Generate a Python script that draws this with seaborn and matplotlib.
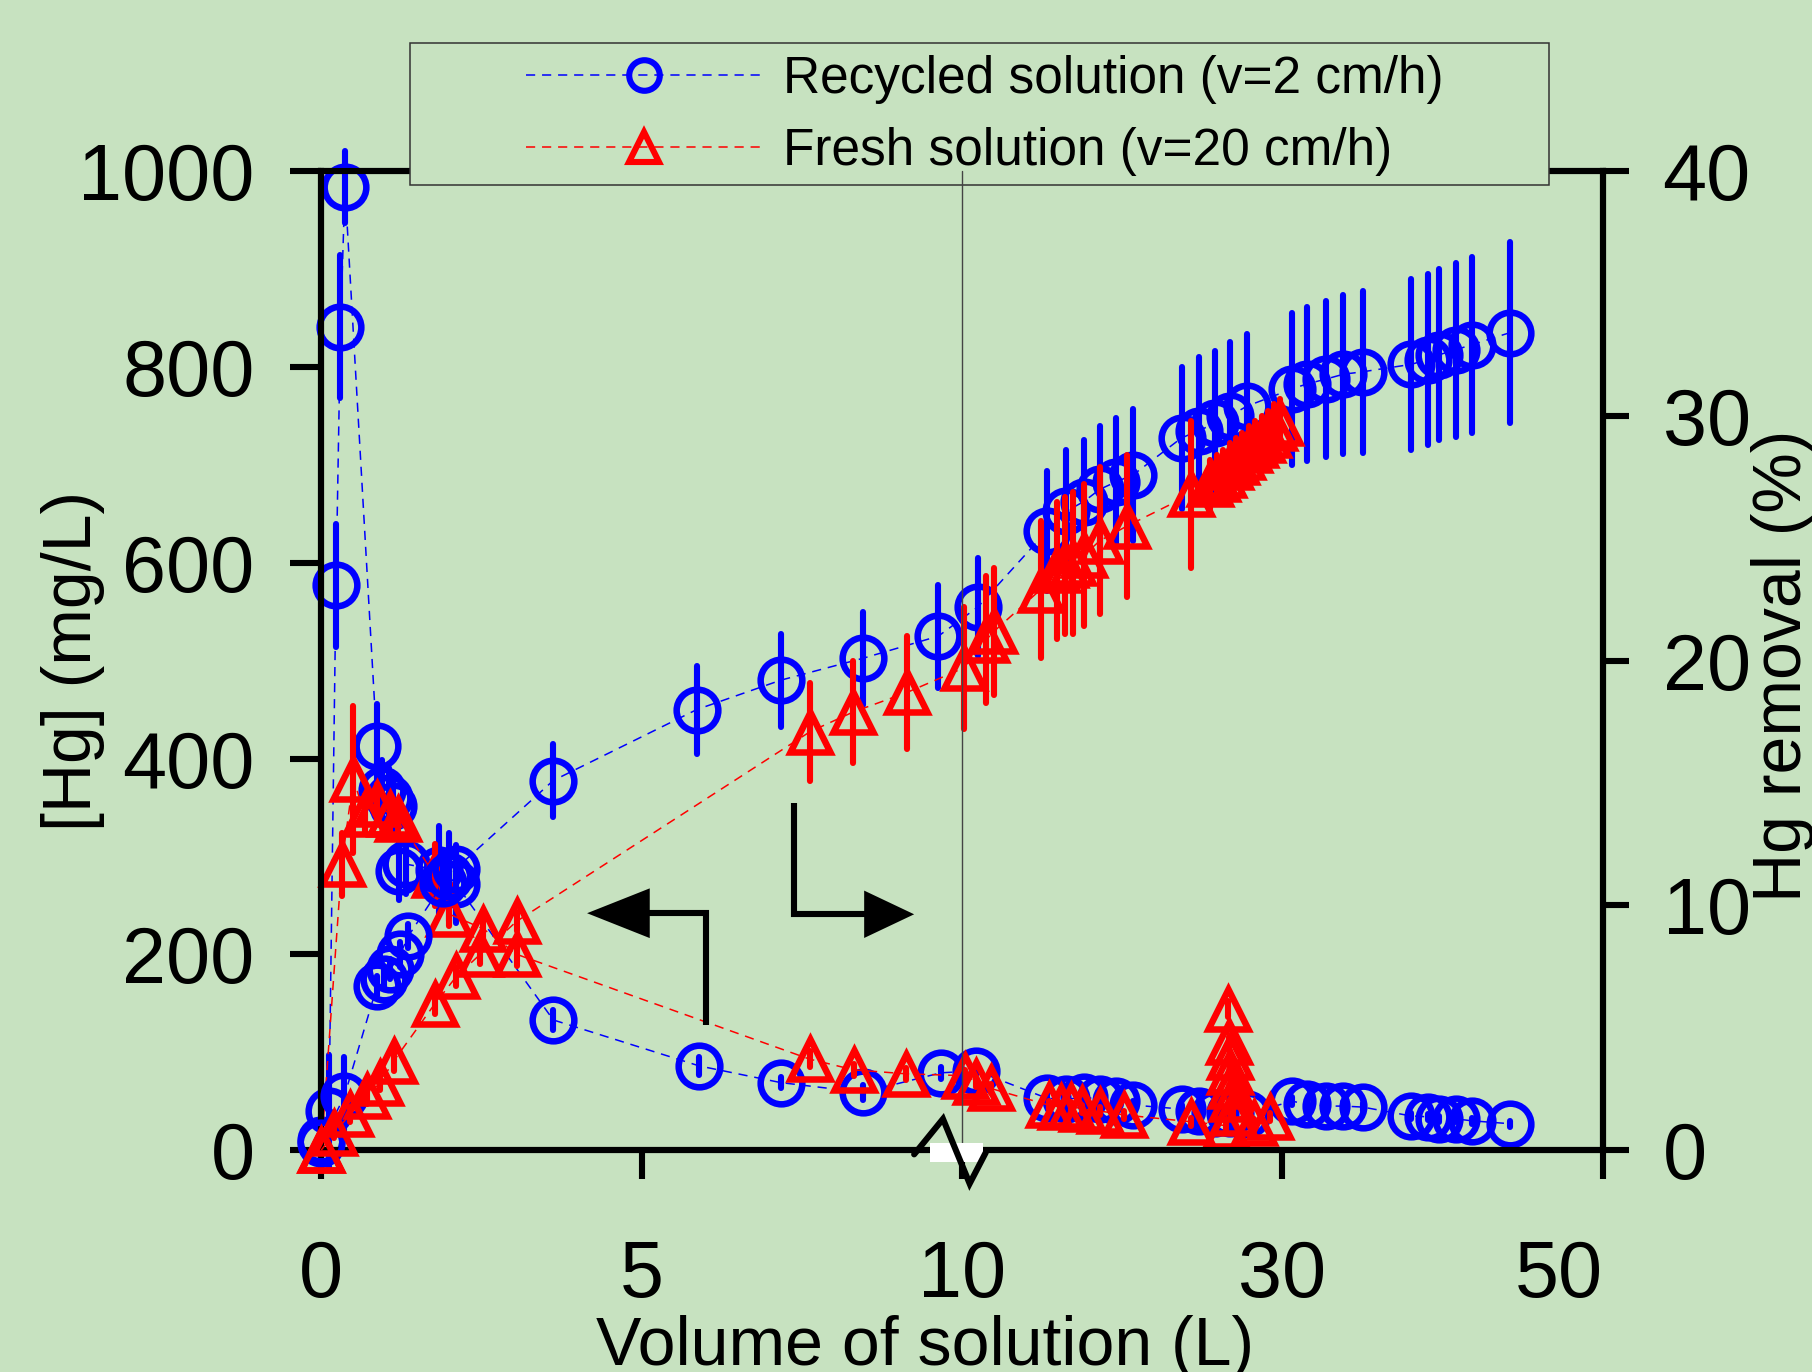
import numpy as np
import pandas as pd
import matplotlib
matplotlib.use("Agg")
import matplotlib.pyplot as plt
import seaborn as sns
from matplotlib.lines import Line2D
from matplotlib.patches import Rectangle, Polygon
from matplotlib.transforms import blended_transform_factory

# ---------------- data ----------------
# Recycled solution (blue): concentration [Hg] (mg/L), left axis
rec_conc_x = [0, 0.12, 0.23, 0.30, 0.37, 0.87, 0.95, 1.05, 1.12, 1.22, 1.33, 1.84, 2.0, 2.1,
              3.62, 5.9, 7.17, 8.45, 9.67, 10.9,
              15.3, 16.5, 17.6, 18.6, 19.6, 20.7, 23.7, 24.8, 25.8, 26.7, 27.8,
              30.6, 31.5, 32.7, 33.8, 35.0, 38.0, 39.1, 39.8, 40.8, 41.8, 44.2]
rec_conc_y = [10, 40, 577, 841, 984, 413, 368, 360, 352, 285, 292, 286, 279, 272,
              133, 86, 69, 59, 79, 81,
              53, 52, 54, 52, 50, 46, 42, 40, 38, 38, 37,
              50, 47, 45, 45, 44, 35, 34, 32, 32, 30, 27]
rec_conc_err = [0, 57, 63, 73, 37, 43, 30, 30, 30, 30, 30, 45, 45, 40,
                10, 9, 6, 8, 6, 6,
                4, 4, 4, 4, 4, 4, 4, 4, 4, 4, 4,
                4, 4, 4, 4, 4, 3, 3, 3, 3, 3, 3]

# Recycled solution (blue): Hg removal (%), right axis
rec_rem_x = [0, 0.36, 0.87, 0.98, 1.08, 1.23, 1.36, 1.9, 2.0, 2.1,
             3.62, 5.86, 7.17, 8.46, 9.63, 11.0,
             15.3, 16.5, 17.6, 18.6, 19.6, 20.7, 23.7, 24.8, 25.8, 26.7, 27.8,
             30.6, 31.5, 32.7, 33.8, 35.0, 38.0, 39.1, 39.8, 40.8, 41.8, 44.2]
rec_rem_y = [0.3, 2.2, 6.7, 7.0, 7.4, 8.0, 8.75, 10.9, 11.2, 11.5,
             15.1, 18.0, 19.2, 20.1, 21.0, 22.2,
             25.3, 26.1, 26.5, 27.0, 27.3, 27.6, 29.1, 29.4, 29.7, 30.0, 30.4,
             31.1, 31.3, 31.5, 31.7, 31.8, 32.1, 32.3, 32.5, 32.7, 32.9, 33.4]
rec_rem_err = [0, 1.6, 0.4, 0.4, 0.4, 0.5, 0.5, 0.8, 0.8, 0.8,
               1.5, 1.8, 1.9, 1.9, 2.1, 2.0,
               2.45, 2.5, 2.5, 2.6, 2.6, 2.7, 2.9, 3.0, 2.95, 3.0, 2.95,
               3.1, 3.15, 3.2, 3.25, 3.3, 3.5, 3.5, 3.5, 3.55, 3.6, 3.7]

# Fresh solution (red): concentration [Hg] (mg/L), left axis
fre_conc_x = [0, 0.32, 0.50, 0.68, 0.87, 1.07, 1.2, 1.77, 2.0, 2.53, 3.05,
              7.62, 8.31, 9.12, 10.2, 10.9, 11.8,
              15.4, 16.2, 16.8, 17.5, 18.6, 20.1, 24.3, 26.5,
              26.6, 26.65, 26.7, 26.75, 26.8, 26.85, 26.9, 28.2, 29.2]
fre_conc_y = [0, 292, 379, 343, 354, 343, 338, 281, 241, 226, 200,
              93, 82, 78, 76, 70, 63,
              46, 44, 45, 42, 40, 36, 29, 25,
              144, 110, 95, 80, 66, 52, 38, 28, 34]
fre_conc_err = [0, 32, 75, 20, 20, 20, 20, 32, 12, 12, 12,
                8, 6, 6, 6, 5, 5,
                4, 4, 4, 4, 4, 4, 4, 4,
                8, 6, 6, 6, 6, 6, 6, 4, 4]

# Fresh solution (red): Hg removal (%), right axis
fre_rem_x = [0, 0.2, 0.45, 0.71, 0.92, 1.13, 1.77, 2.11, 2.48, 3.05,
             7.63, 8.30, 9.14, 10.1, 11.5, 12.0,
             14.9, 15.9, 16.4, 16.9, 17.6, 18.6, 20.3, 24.3,
             25.5, 25.9, 26.3, 26.7, 27.1, 27.5, 27.9, 28.3, 28.7, 29.1, 29.5, 29.85]
fre_rem_y = [0, 0.7, 1.46, 2.2, 2.76, 3.64, 5.97, 7.1, 8.0, 9.35,
             17.1, 17.9, 18.7, 19.7, 20.85, 21.2,
             22.9, 23.7, 23.9, 24.0, 24.3, 24.9, 25.5, 26.8,
             27.2, 27.4, 27.6, 27.9, 28.1, 28.3, 28.6, 28.8, 29.0, 29.2, 29.5, 29.7]
fre_rem_err = [0, 0.2, 0.3, 0.3, 0.3, 0.4, 0.4, 0.4, 0.4, 0.4,
               2.0, 2.1, 2.3, 2.5, 2.6, 2.6,
               2.8, 2.8, 2.8, 2.9, 2.9, 3.0, 2.9, 3.0,
               1.0, 1.0, 1.0, 1.0, 1.0, 1.0, 1.0, 1.0, 1.0, 1.0, 1.0, 1.0]

labels = ["Recycled solution (v=2 cm/h)", "Fresh solution (v=20 cm/h)"]
x_ticks = [0, 5, 10, 30, 50]
yl_ticks = [0, 200, 400, 600, 800, 1000]
yr_ticks = [0, 10, 20, 30, 40]

# ---------------- style ----------------
sns.set_theme(style="ticks")
plt.rcParams["font.family"] = ["Liberation Sans", "DejaVu Sans"]

BG = "#C7E2C0"
BLUE = "#0000FF"
RED = "#FF0000"
LW = 4.4
MEW = 4.7

fig = plt.figure(figsize=(18.12, 13.72), dpi=100, facecolor=BG)
ax = fig.add_axes([0.1773, 0.1617, 0.7073, 0.7136])
ax.set_facecolor(BG)


def fwd(x):
    x = np.asarray(x, dtype=float)
    return np.where(x <= 10, x, 10 + (x - 10) / 4.0)


def inv(y):
    y = np.asarray(y, dtype=float)
    return np.where(y <= 10, y, 10 + (y - 10) * 4.0)


ax.set_xscale("function", functions=(fwd, inv))
ax.set_xlim(0, 50)
ax.set_ylim(0, 1000)
ax2 = ax.twinx()
ax2.set_ylim(0, 40)


def draw(axis, x, y, err, color, marker, ms, z):
    eb = axis.errorbar(x, y, yerr=err, fmt="none", ecolor=color, elinewidth=LW,
                       capsize=0, zorder=z, clip_on=False)
    for lc in eb.lines[2]:
        lc.set_capstyle("round")
    df = pd.DataFrame({"x": x, "y": y})
    sns.lineplot(data=df, x="x", y="y", ax=axis, sort=False, estimator=None,
                 errorbar=None, color=color, lw=1.1, linestyle=(0, (6, 4.5)),
                 marker=marker, markersize=ms, markerfacecolor="none",
                 markeredgecolor=color, markeredgewidth=MEW, clip_on=False,
                 zorder=z + 0.5, legend=False)


draw(ax, rec_conc_x, rec_conc_y, rec_conc_err, BLUE, "o", 30, 3)
draw(ax, fre_conc_x, fre_conc_y, fre_conc_err, RED, "^", 29.5, 4)
draw(ax2, rec_rem_x, rec_rem_y, rec_rem_err, BLUE, "o", 30, 3)
draw(ax2, fre_rem_x, fre_rem_y, fre_rem_err, RED, "^", 29.5, 4)

# ---------------- axes ----------------
for a in (ax, ax2):
    for s in a.spines.values():
        s.set_linewidth(LW)
        s.set_color("black")
ax.set_xticks(x_ticks)
ax.set_xticklabels([str(t) for t in x_ticks])
ax.set_yticks(yl_ticks)
ax2.set_yticks(yr_ticks)
ax.minorticks_off()
ax2.minorticks_off()
ax.tick_params(axis="x", direction="out", length=21, width=LW, labelsize=57,
               pad=43, color="black", labelcolor="black")
ax.tick_params(axis="y", direction="out", length=22, width=LW, labelsize=57,
               pad=26, color="black", labelcolor="black")
ax2.tick_params(axis="y", direction="out", length=19, width=LW, labelsize=57,
                pad=24, color="black", labelcolor="black")
ax.get_xticklabels()[-1].set_horizontalalignment("right")

ax.set_xlabel("Volume of solution (L)", fontsize=49, color="black")
ax.xaxis.set_label_coords(0.471, -0.168)
ax.set_ylabel("[Hg] (mg/L)", fontsize=49, color="black")
ax.yaxis.set_label_coords(-0.1686, 0.5)
ax2.set_ylabel("Hg removal (%)", fontsize=49, color="black")
ax2.yaxis.set_label_coords(1.1154, 0.495)

# direction arrows
ak = dict(transform=ax.transAxes, color="black", lw=LW, zorder=6, clip_on=False,
          solid_capstyle="butt", solid_joinstyle="miter")
ax.add_line(Line2D([0.3003, 0.3003, 0.2543], [0.1275, 0.2420, 0.2420], **ak))
ax.add_patch(Polygon([[0.2074, 0.2420], [0.2563, 0.2674], [0.2563, 0.2166]],
                     closed=True, transform=ax.transAxes, facecolor="black",
                     edgecolor="none", zorder=6, clip_on=False))
ax.add_line(Line2D([0.3688, 0.3688, 0.4256], [0.3542, 0.2409, 0.2409], **ak))
ax.add_patch(Polygon([[0.4626, 0.2409], [0.4236, 0.2651], [0.4236, 0.2167]],
                     closed=True, transform=ax.transAxes, facecolor="black",
                     edgecolor="none", zorder=6, clip_on=False))

# axis break mark at x = 10
fig.add_artist(Rectangle((0.4752, -0.0118), 0.0415, 0.0189, transform=ax.transAxes,
                         facecolor="white", edgecolor="none", zorder=20))
fig.add_artist(Line2D([0.4626, 0.4851, 0.5059, 0.5185], [-0.0043, 0.0319, -0.0342, -0.0024],
                      transform=ax.transAxes, color="black", lw=LW, zorder=21,
                      solid_joinstyle="miter"))

# legend box + legend
fig.add_artist(Rectangle((0.2264, 0.8652), 0.6282, 0.1036, transform=fig.transFigure,
                         facecolor=BG, edgecolor="#333333", lw=1.1, zorder=10))
handles = [
    Line2D([], [], color=BLUE, lw=1.1, linestyle=(0, (6, 4.5)), marker="o", markersize=22,
           markerfacecolor="none", markeredgecolor=BLUE, markeredgewidth=4.4),
    Line2D([], [], color=RED, lw=1.1, linestyle=(0, (6, 4.5)), marker="^", markersize=22,
           markerfacecolor="none", markeredgecolor=RED, markeredgewidth=4.4),
]
leg = fig.legend(handles, labels, loc="upper left", bbox_to_anchor=(0.2902, 0.9596),
                 bbox_transform=fig.transFigure, frameon=False, fontsize=37,
                 handlelength=4.6, handletextpad=0.4, labelspacing=0.44,
                 borderpad=0, borderaxespad=0)
for t in leg.get_texts():
    t.set_color("black")
leg.set_zorder(12)

# thin vertical separator at x = 10
fig.add_artist(Line2D([10, 10], [0, 1],
                      transform=blended_transform_factory(ax.transData, ax.transAxes),
                      color="#444444", lw=1.0, zorder=15))

fig.savefig("out.png", dpi=100, facecolor=BG)
